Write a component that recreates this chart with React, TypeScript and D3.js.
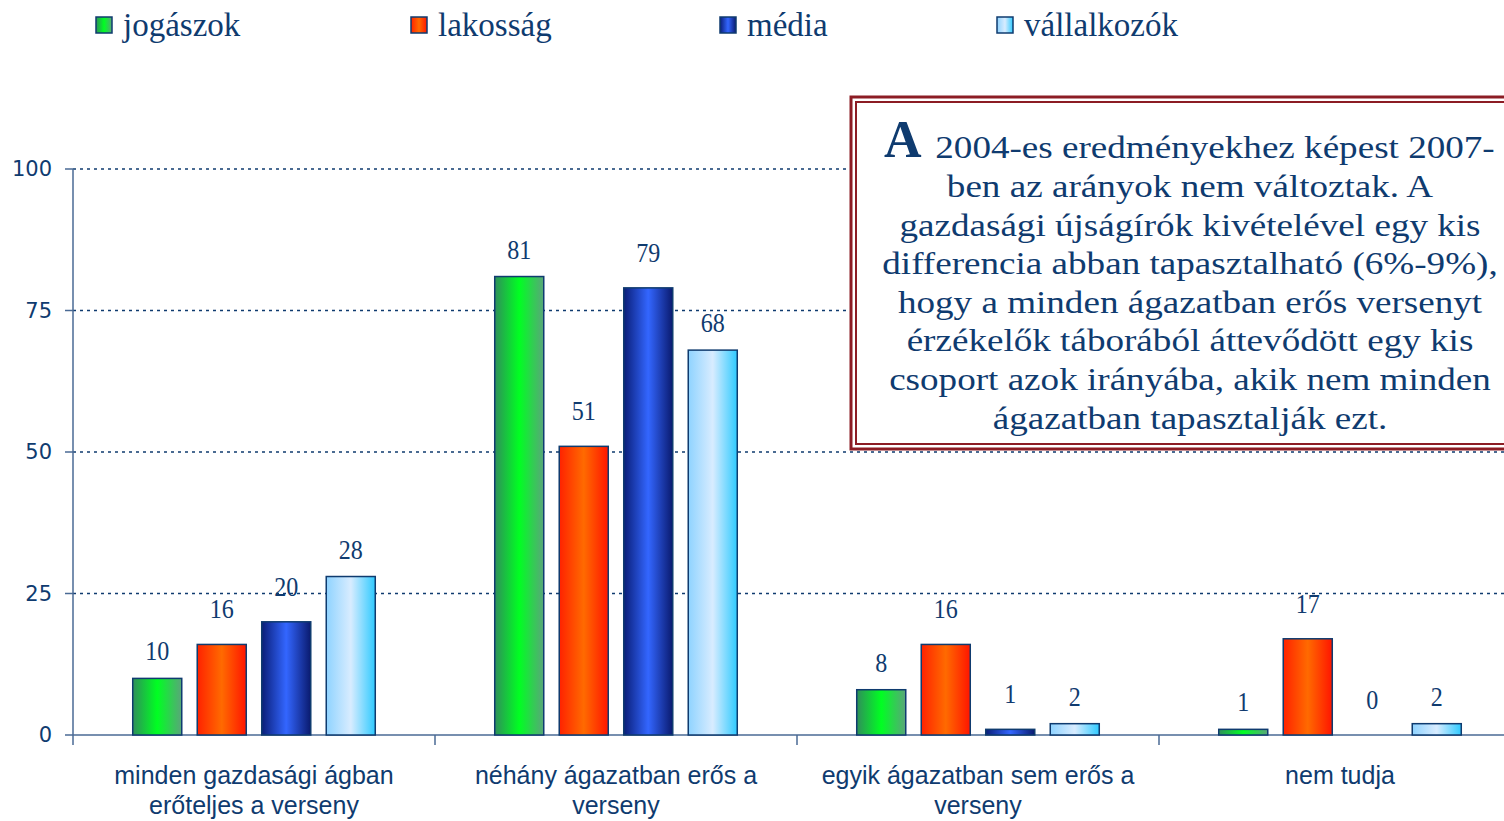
import React from "react";
import * as d3 from "d3";

const categories: string[][] = [
  ["minden gazdasági ágban", "erőteljes a verseny"],
  ["néhány ágazatban erős a", "verseny"],
  ["egyik ágazatban sem erős a", "verseny"],
  ["nem tudja"],
];
const seriesNames = ["jogászok", "lakosság", "média", "vállalkozók"];
const jogaszok = [10, 81, 8, 1];
const lakossag = [16, 51, 16, 17];
const media = [20, 79, 1, 0];
const vallalkozok = [28, 68, 2, 2];
const seriesValues = [jogaszok, lakossag, media, vallalkozok];
const yTicks = [0, 25, 50, 75, 100];
const boxLines = [
  "ben az arányok nem változtak. A",
  "gazdasági újságírók kivételével egy kis",
  "differencia abban tapasztalható (6%-9%),",
  "hogy a minden ágazatban erős versenyt",
  "érzékelők táborából áttevődött egy kis",
  "csoport azok irányába, akik nem minden",
  "ágazatban tapasztalják ezt.",
];
const boxFirstLine = " 2004-es eredményekhez képest 2007-";

const NAVY = "#0f3b6f";
const SERIF = "Liberation Serif, Times New Roman, serif";
const gradStops: [string, string, string][] = [
  ["#2f8f5a", "#00ff22", "#5aa57a"],
  ["#ff2200", "#ff6a00", "#ff1500"],
  ["#0a1e78", "#3366ff", "#0a1a6e"],
  ["#8fd3ff", "#d8ecff", "#2fcaff"],
];
const labelOffsets = [18, 26, 26, 18];

export default function App() {
  const W = 1504, H = 821;
  const x0 = 73, yBase = 735, yTop = 169;
  const catW = 362;
  const xCat = d3.scaleBand<number>().domain(d3.range(categories.length)).range([x0, x0 + catW * categories.length]).padding(0);
  const xSer = d3.scaleBand<number>().domain(d3.range(seriesNames.length)).range([0, catW]).paddingInner(0.24).paddingOuter(0.926);
  const y = d3.scaleLinear().domain([0, 100]).range([yBase, yTop]);
  const sx = 1.16;
  const legendX = [96, 411, 720, 997];

  return (
    <svg width={W} height={H} style={{ position: "absolute", left: 0, top: 0, background: "#fff" }}>
      <defs>
        {gradStops.map((g, i) => (
          <linearGradient key={i} id={`g${i}`} x1="0" x2="1" y1="0" y2="0">
            <stop offset="0%" stopColor={g[0]} />
            <stop offset="50%" stopColor={g[1]} />
            <stop offset="100%" stopColor={g[2]} />
          </linearGradient>
        ))}
      </defs>
      {/* legend */}
      {seriesNames.map((s, i) => (
        <g key={s}>
          <rect x={legendX[i]} y={17} width={16} height={16} fill={`url(#g${i})`} stroke={NAVY} strokeWidth={1.5} />
          <text x={legendX[i] + 27} y={36} fontFamily={SERIF} fontSize={33} fill={NAVY}>{s}</text>
        </g>
      ))}
      {/* grid */}
      {yTicks.filter(t => t > 0).map(t => (
        <line key={t} x1={x0} x2={W} y1={y(t)} y2={y(t)} stroke={NAVY} strokeWidth={1.5} strokeDasharray="3 4" />
      ))}
      {/* y axis */}
      <line x1={x0} x2={x0} y1={yTop} y2={yBase + 10} stroke="#4a6a94" strokeWidth={1.5} />
      {yTicks.map(t => (
        <g key={t}>
          <line x1={x0 - 8} x2={x0} y1={y(t)} y2={y(t)} stroke="#4a6a94" strokeWidth={1.5} />
          <text x={52} y={y(t) + 7} textAnchor="end" fontFamily="DejaVu Sans, Verdana, sans-serif" fontSize={21} fill={NAVY}>{t}</text>
        </g>
      ))}
      {/* x axis */}
      <line x1={x0} x2={W} y1={yBase} y2={yBase} stroke="#4a6a94" strokeWidth={1.5} />
      {categories.map((c, i) => i > 0 ? (
        <line key={i} x1={xCat(i)!} x2={xCat(i)!} y1={yBase} y2={yBase + 10} stroke="#4a6a94" strokeWidth={1.5} />
      ) : null)}
      {/* bars */}
      {categories.map((c, ci) => (
        <g key={ci}>
          {seriesValues.map((vals, si) => {
            const v = vals[ci];
            const bx = xCat(ci)! + xSer(si)!;
            const bw = xSer.bandwidth();
            return (
              <g key={si}>
                {v > 0 && (
                  <rect x={bx} y={y(v)} width={bw} height={yBase - y(v)} fill={`url(#g${si})`} stroke={NAVY} strokeWidth={1.5} />
                )}
                <text transform={`translate(${bx + bw / 2},${y(v) - labelOffsets[si]}) scale(0.86,1)`} textAnchor="middle" fontFamily={SERIF} fontSize={28} fill={NAVY}>{v}</text>
              </g>
            );
          })}
          {c.map((line, li) => (
            <text key={li} x={xCat(ci)! + catW / 2} y={784 + li * 30} textAnchor="middle" fontFamily="Liberation Sans, Arial, sans-serif" fontSize={25} fill={NAVY}>{line}</text>
          ))}
        </g>
      ))}
      {/* text box */}
      <rect x={851} y={97} width={700} height={352} fill="#fff" stroke="#8c1c24" strokeWidth={3} />
      <rect x={856} y={102} width={700} height={342} fill="none" stroke="#8c1c24" strokeWidth={2} />
      <text x={884} y={157} fontFamily={SERIF} fontWeight="bold" fontSize={52} fill={NAVY}>A</text>
      <text transform={`translate(926,158) scale(${sx},1)`} fontFamily={SERIF} fontSize={32} fill={NAVY} style={{ whiteSpace: "pre" }}>{boxFirstLine}</text>
      {boxLines.map((l, i) => (
        <text key={i} transform={`translate(1190,${197 + i * 38.6}) scale(${sx},1)`} textAnchor="middle" fontFamily={SERIF} fontSize={32} fill={NAVY}>{l}</text>
      ))}
    </svg>
  );
}
